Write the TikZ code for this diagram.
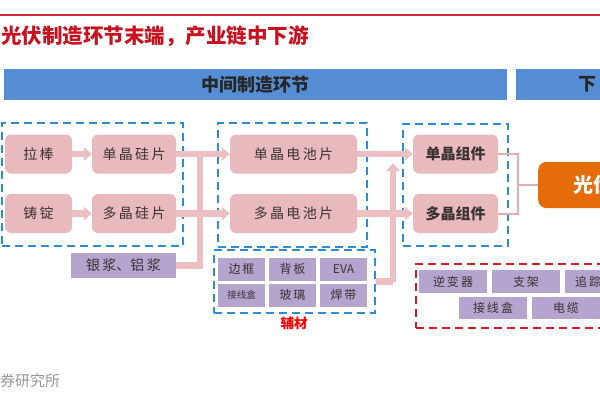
\documentclass[tikz,border=0pt]{standalone}
\usepackage{fontspec}
\setmainfont{Noto Sans CJK SC}
\usetikzlibrary{arrows.meta}
\definecolor{titlered}{RGB}{200,16,30}
\definecolor{hdrblue}{RGB}{85,142,213}
\definecolor{boxpink}{RGB}{232,186,190}
\definecolor{pipepink}{RGB}{236,192,195}
\definecolor{linkpink}{RGB}{226,172,177}
\definecolor{boxpurple}{RGB}{180,164,206}
\definecolor{dashblue}{RGB}{45,140,210}
\definecolor{dashred}{RGB}{215,30,40}
\definecolor{pvorange}{RGB}{228,108,10}
\definecolor{textgray}{RGB}{60,50,50}
\definecolor{srcgray}{RGB}{150,150,150}
\tikzset{
  header/.style={fill=hdrblue, minimum height=31pt, inner sep=0pt,
    font=\fontsize{18}{20}\selectfont\bfseries, text=black!85},
  pinkbox/.style={fill=boxpink, rounded corners=6pt, minimum width=#1,
    minimum height=39pt, inner sep=0pt, text=textgray,
    font=\fontsize{14}{16}\selectfont},
  modbox/.style={pinkbox=#1, font=\fontsize{15}{17}\selectfont\bfseries},
  purplebox/.style={fill=boxpurple, minimum width=#1, minimum height=23pt,
    inner sep=0pt, text=textgray, font=\fontsize{12}{14}\selectfont},
  bluedash/.style={draw=dashblue, line width=2.2pt, dash pattern=on 8pt off 5pt,
    minimum width=#1, inner sep=0pt},
  reddash/.style={draw=dashred, line width=2.2pt, dash pattern=on 8pt off 5pt,
    minimum width=#1, inner sep=0pt},
  pipe/.style={draw=pipepink, line width=6.5pt},
  pipetip/.style={pipe, -{Triangle[width=13pt,length=8pt]}},
  thinlink/.style={draw=linkpink, line width=2pt}
}
\begin{document}
\begin{tikzpicture}[x=1pt,y=-1pt]
  \useasboundingbox (0,0) rectangle (600,400);
  % title and rule
  \draw[titlered!90, line width=1.4pt] (0,15) -- (600,15);
  \node (title) [anchor=west, inner sep=0pt, text=titlered,
    font=\fontsize{20.5}{22}\selectfont\bfseries] at (1,36) {光伏制造环节末端，产业链中下游};
  % stage headers
  \node (hd1) [header, minimum width=503pt] at (255.5,84.5) {中间制造环节};
  \node (hd2) [header, anchor=west, minimum width=100pt] at (516,84.5) {};
  \node (hd2t) [anchor=west, inner sep=0pt,
    font=\fontsize{18}{20}\selectfont\bfseries, text=black!85] at (578,84.5) {下};
  % group frames
  \node (g1) [bluedash=181pt, minimum height=123pt] at (92.5,184.5) {};
  \node (g2) [bluedash=149pt, minimum height=124pt] at (292.5,185) {};
  \node (fc) [bluedash=161pt, minimum height=63pt] at (294.5,281.5) {};
  \node (g3) [bluedash=105pt, minimum height=122pt] at (455.5,185) {};
  \node (g4) [reddash=212pt, minimum height=64pt, anchor=west] at (415,296) {};
  % wafers
  \node (lb) [pinkbox=67pt] at (38.5,154) {拉\,棒};
  \node (zd) [pinkbox=67pt] at (38.5,213.5) {铸\,锭};
  \node (djgp) [pinkbox=84pt] at (134,154) {单\,晶\,硅\,片};
  \node (dugp) [pinkbox=84pt] at (134,213.5) {多\,晶\,硅\,片};
  \node (yj) [purplebox=105pt, minimum height=25pt,
    font=\fontsize{14}{16}\selectfont] at (123.5,265.5) {银\,浆、铝\,浆};
  % cells
  \node (djdc) [pinkbox=127pt] at (293.5,154) {单\,晶\,电\,池\,片};
  \node (dudc) [pinkbox=127pt] at (293.5,213.5) {多\,晶\,电\,池\,片};
  % auxiliary materials
  \node (bk) [purplebox=47pt] at (241.5,269) {边\,框};
  \node (bb) [purplebox=47pt] at (292.5,269) {背\,板};
  \node (eva) [purplebox=47pt] at (343.5,269) {EVA};
  \node (jxh1) [purplebox=47pt, font=\fontsize{9.5}{11}\selectfont] at (241.5,295) {接线盒};
  \node (bl) [purplebox=47pt] at (292.5,295) {玻\,璃};
  \node (hd) [purplebox=47pt] at (343.5,295) {焊\,带};
  \node (fclab) [text=red, inner sep=0pt,
    font=\fontsize{13.5}{15}\selectfont\bfseries] at (294,323) {辅材};
  % modules
  \node (djzj) [modbox=85pt] at (455.5,154) {单晶组件};
  \node (duzj) [modbox=85pt] at (455.5,213.5) {多晶组件};
  \node (gf) [fill=pvorange, rounded corners=8pt, anchor=west, minimum width=110pt,
    minimum height=46pt, inner sep=0pt, text=white,
    font=\fontsize{20}{22}\selectfont\bfseries] at (538,185) {光伏};
  % system parts
  \node (nbq) [purplebox=68pt] at (453,281.5) {逆\,变\,器};
  \node (zj) [purplebox=68pt] at (526,281.5) {支\,架};
  \node (zz) [purplebox=75pt, anchor=west] at (565,281.5) {};
  \node (zzt) [anchor=west, inner sep=0pt, text=textgray,
    font=\fontsize{12}{14}\selectfont] at (575,281.5) {追\,踪};
  \node (jxh2) [purplebox=68pt, minimum height=22pt] at (493,308) {接\,线\,盒};
  \node (dl) [purplebox=68pt, minimum height=22pt] at (566,308) {电\,缆};
  % junctions
  \coordinate (t1b) at (200,265.5);
  \coordinate (t1t) at (200,151);
  \coordinate (t2b) at (393,281.5);
  \coordinate (t2t) at (393,163);
  \coordinate (ja) at (518,154);
  \coordinate (jb) at (518,213.5);
  \coordinate (jm) at (518,185);
  % flows
  \draw[pipetip] (lb) -- (djgp);
  \draw[pipetip] (zd) -- (dugp);
  \draw[pipe, line join=miter] (yj.east) -- (t1b) -- (t1t);
  \draw[pipetip] (djgp) -- (djdc);
  \draw[pipetip] (dugp) -- (dudc);
  \draw[pipe] (fc.east) -- (t2b);
  \draw[pipetip] (t2b) -- (t2t);
  \draw[pipetip] (djdc) -- (djzj);
  \draw[pipetip] (dudc) -- (duzj);
  \draw[thinlink] (djzj.east) -- (ja) -- (jb) -- (duzj.east);
  \draw[thinlink] (jm) -- (gf.west);
  % source
  \node (src) [anchor=west, inner sep=0pt, text=srcgray,
    font=\fontsize{15}{17}\selectfont] at (0,381) {券研究所};
\end{tikzpicture}
\end{document}
